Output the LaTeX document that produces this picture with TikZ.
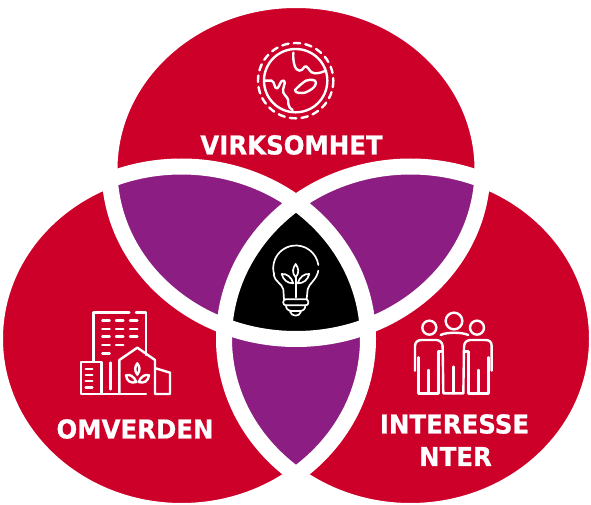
\documentclass[tikz,border=0pt]{standalone}
\usepackage{fontspec}
\setmainfont{DejaVu Sans}
\newfontfamily\lblfont[FakeStretch=0.94,FakeBold=0.7]{DejaVu Sans Bold}
\definecolor{vred}{HTML}{CC0029}
\definecolor{vpurple}{HTML}{8C1D82}
\tikzset{
  x=1pt,y=-1pt,
  ring/.style={draw=white,line width=16pt},
  lbl/.style={text=white,font=\lblfont\fontsize{26}{26}\selectfont,inner sep=0pt,anchor=center},
  ico/.style={draw=white,line width=2.4pt,line cap=round,line join=round},
  icothin/.style={draw=white,line width=1.7pt,line cap=round,line join=round},
  zoomA/.style={x=0.3333pt,y=-0.3333pt}
}
\newcommand{\topE}{(296,169.5) ellipse [x radius=186.5pt,y radius=169.5pt]}
\newcommand{\leftE}{(181.5,338.75) ellipse [x radius=186.5pt,y radius=172.25pt]}
\newcommand{\rightE}{(410.5,338.75) ellipse [x radius=186.5pt,y radius=172.25pt]}
\begin{document}
\begin{tikzpicture}
\useasboundingbox (0,0) rectangle (591,505);
\fill[white] (0,0) rectangle (591,505);
\fill[vred] \topE;
\fill[vred] \leftE;
\fill[vred] \rightE;
\begin{scope}\clip \topE; \clip \leftE; \fill[vpurple] (0,0) rectangle (591,505);\end{scope}
\begin{scope}\clip \topE; \clip \rightE; \fill[vpurple] (0,0) rectangle (591,505);\end{scope}
\begin{scope}\clip \leftE; \clip \rightE; \fill[vpurple] (0,0) rectangle (591,505);\end{scope}
\begin{scope}\clip \topE; \clip \leftE; \clip \rightE; \fill[black] (0,0) rectangle (591,505);\end{scope}
\draw[ring] \topE;
\draw[ring] \leftE;
\draw[ring] \rightE;
% labels
\node[lbl] (virk) at (291.5,145) {VIRKSOMHET};
\node[lbl] (omv) at (135,429) {OMVERDEN};
\node[lbl] (int) at (454.5,424) {INTERESSE};
\node[lbl] (nter) at (455.5,456.5) {NTER};
% globe
\begin{scope}[shift={(230,30)},zoomA]
  \draw[ico] (197,152) circle [radius=95];
  \draw[ico,dash pattern=on 6.5pt off 5.2pt] (197,152) circle [radius=113];
  \draw[ico] (190,68) .. controls (188,95) and (195,122) .. (208,122) .. controls (222,122) and (220,105) .. (230,110) .. controls (240,118) and (238,128) .. (255,130) .. controls (268,130) and (278,126) .. (288,122);
  \draw[ico] (105,152) -- (125,152) .. controls (135,155) and (132,178) .. (142,175) .. controls (150,170) and (150,148) .. (162,152) .. controls (170,158) and (155,175) .. (160,188) .. controls (165,200) and (178,202) .. (175,222) .. controls (175,232) and (182,236) .. (188,240);
  \draw[ico] (195,180) .. controls (205,170) and (215,160) .. (228,152) .. controls (240,148) and (258,148) .. (258,158) .. controls (258,172) and (240,182) .. (225,188) .. controls (212,190) and (195,190) .. (195,180) -- cycle;
\end{scope}
% buildings
\begin{scope}[shift={(60,300)},zoomA]
  \draw[ico] (208,37) -- (100,37) -- (100,182);
  \draw[ico] (228,37) -- (258,37) -- (258,165);
  \foreach \yy in {62,87,110}{
    \draw[ico] (127,\yy) -- (149,\yy); \draw[ico] (168,\yy) -- (190,\yy); \draw[ico] (210,\yy) -- (232,\yy);}
  \draw[ico] (127,135) -- (149,135); \draw[ico] (168,135) -- (190,135);
  \draw[ico] (127,160) -- (149,160);
  \draw[ico] (63,186) rectangle (125,282);
  \foreach \yy in {207,225,243,263}{\draw[ico] (77,\yy) -- (97,\yy);}
  \draw[ico] (152,188) -- (152,268);
  \draw[ico] (125,282) -- (258,282);
  \draw[ico] (178,280) -- (178,180) -- (232,143) -- (285,180) -- (285,282) -- (330,282) -- (330,218) -- (287,205);
  \draw[ico] (232,190) .. controls (225,200) and (222,210) .. (232,224) .. controls (242,210) and (239,200) .. (232,190) -- cycle;
  \draw[ico] (198,226) .. controls (208,222) and (222,228) .. (229,246) .. controls (212,252) and (200,242) .. (198,226) -- cycle;
  \draw[ico] (267,226) .. controls (257,222) and (243,228) .. (236,246) .. controls (253,252) and (265,242) .. (267,226) -- cycle;
\end{scope}
% people
\begin{scope}[shift={(400,300)},zoomA]
  \draw[ico] (162,63) circle [radius=25];
  \draw[ico] (88,83) circle [radius=21];
  \draw[ico] (231,83) circle [radius=21];
  \draw[ico] (122,105) .. controls (140,96) and (185,96) .. (205,105);
  \draw[ico] (45,212) -- (45,138) .. controls (45,125) and (55,120) .. (65,120) -- (110,120) .. controls (122,122) and (127,128) .. (128,140);
  \draw[ico] (55,172) -- (55,280) -- (115,280) -- (115,155) -- (127,155);
  \draw[ico] (85,210) -- (85,280);
  \draw[ico] (128,140) -- (130,280) -- (190,280) -- (192,140);
  \draw[ico] (160,200) -- (160,280);
  \draw[ico] (192,140) .. controls (193,128) and (198,122) .. (210,120) -- (255,120) .. controls (268,120) and (275,125) .. (275,138) -- (275,212);
  \draw[ico] (192,155) -- (205,155) -- (205,280) -- (265,280) -- (265,172);
  \draw[ico] (235,210) -- (235,280);
\end{scope}
% bulb
\begin{scope}[shift={(210,200)},zoomA]
  \draw[icothin] (325,195) arc [start angle=-8,end angle=-197,radius=68];
  \draw[icothin] (191,225) .. controls (195,245) and (215,250) .. (220,268) -- (222,298);
  \draw[icothin] (325,212) .. controls (320,240) and (297,250) .. (293,268) -- (290,298);
  \draw[icothin,rounded corners=2.5pt] (220,298) rectangle (295,316);
  \draw[icothin] (228,316) .. controls (228,328) and (235,332) .. (245,333) -- (270,333) .. controls (280,332) and (286,328) .. (286,316);
  \draw[icothin] (240,335) .. controls (245,350) and (268,352) .. (273,335);
  \draw[icothin] (257,192) .. controls (248,205) and (245,218) .. (257,232) .. controls (269,218) and (266,205) .. (257,192) -- cycle;
  \draw[icothin] (215,222) .. controls (230,220) and (245,232) .. (250,250) .. controls (232,250) and (220,240) .. (215,222) -- cycle;
  \draw[icothin] (298,222) .. controls (283,220) and (268,232) .. (263,250) .. controls (281,250) and (293,240) .. (298,222) -- cycle;
  \draw[icothin] (257,232) -- (257,292);
\end{scope}
\end{tikzpicture}
\end{document}
